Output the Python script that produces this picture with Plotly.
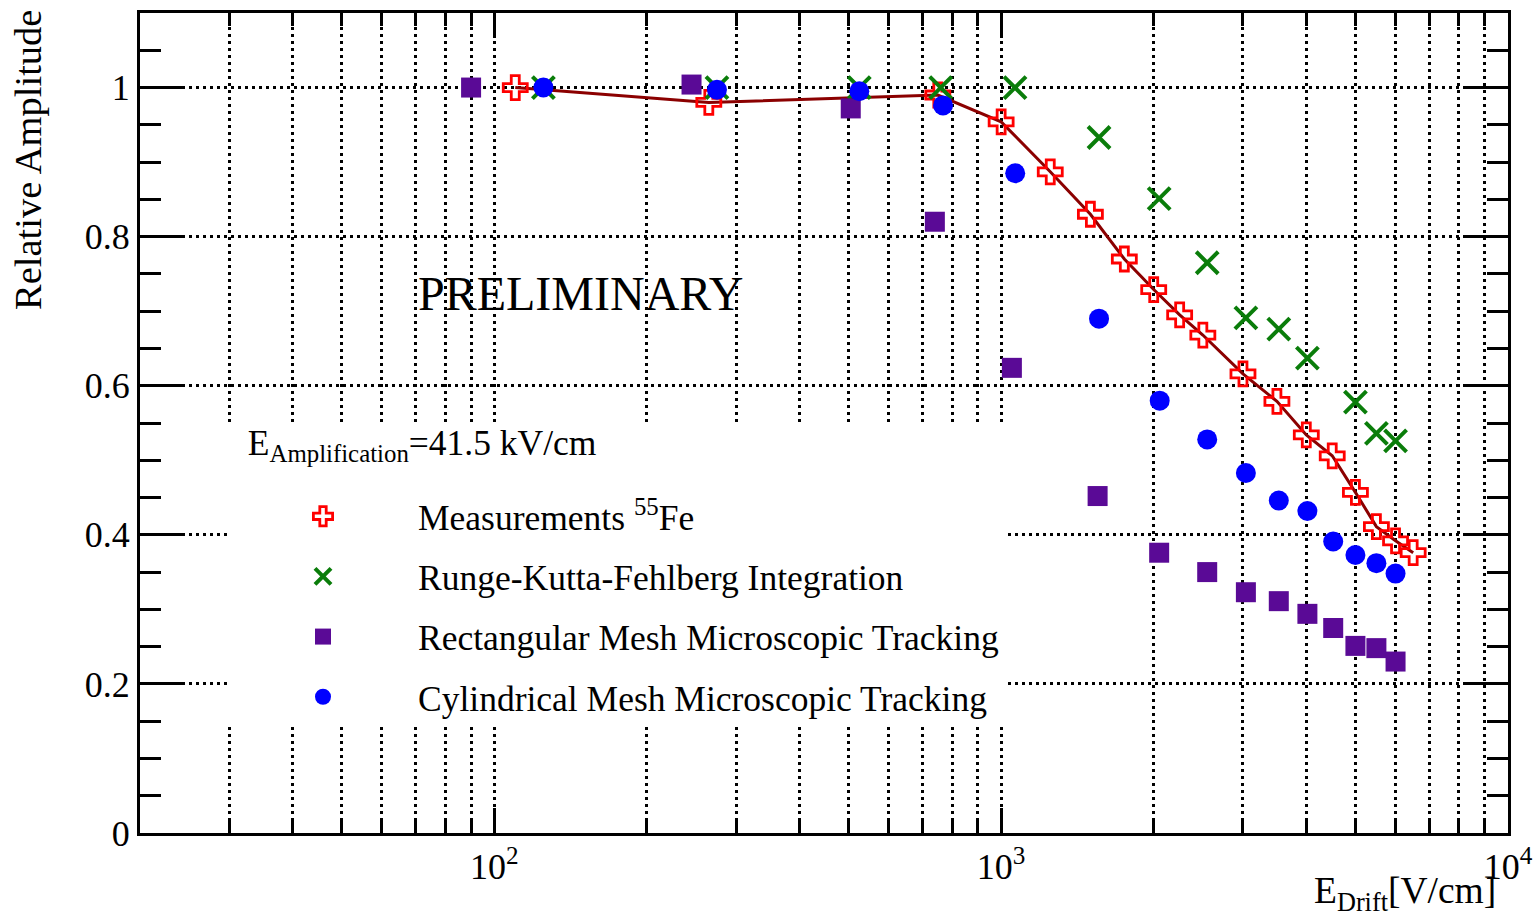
import math
import plotly.graph_objects as go

# Drift field [V/cm] and relative amplitude for each data set
meas_x = [110, 265, 750, 1000, 1250, 1500, 1750, 2000, 2250, 2500, 3000, 3500,
          4000, 4500, 5000, 5500, 6000, 6500]
meas_y = [1.000, 0.980, 0.990, 0.954, 0.887, 0.830, 0.770, 0.729, 0.695, 0.668,
          0.616, 0.579, 0.534, 0.506, 0.457, 0.411, 0.392, 0.376]

rkf_x = [125, 275, 525, 760, 1065, 1560, 2050, 2550, 3040, 3530, 4020, 5000, 5500, 6000]
rkf_y = [1.000, 1.000, 1.000, 1.000, 1.000, 0.933, 0.851, 0.765, 0.691, 0.676,
         0.637, 0.578, 0.536, 0.526]

rect_x = [90, 245, 505, 740, 1050, 1550, 2050, 2550, 3040, 3530, 4020, 4520, 5000, 5500, 6000]
rect_y = [1.000, 1.004, 0.972, 0.820, 0.624, 0.452, 0.376, 0.350, 0.323, 0.311,
          0.294, 0.275, 0.251, 0.248, 0.230]

cyl_x = [125, 275, 525, 768, 1066, 1560, 2055, 2550, 3040, 3530, 4020, 4520, 5000, 5500, 6000]
cyl_y = [1.000, 0.997, 0.995, 0.976, 0.885, 0.690, 0.580, 0.528, 0.483, 0.446,
         0.432, 0.391, 0.373, 0.362, 0.348]

# Axis ticks
x_major = [100, 1000, 10000]
x_major_text = ["10<sup>2</sup>", "10<sup>3</sup>", "10<sup>4</sup>"]
x_minor = [v * m for m in (10, 100, 1000) for v in range(2, 10) if v * m > 20]
y_major = [0, 0.2, 0.4, 0.6, 0.8, 1.0]
y_major_text = ["0", "0.2", "0.4", "0.6", "0.8", "1"]

FONT = "Liberation Serif, Times New Roman, serif"
GRID_DASH = "3px,4px"
LEG_SIZE = 35.5

fig = go.Figure()

# Measurement curve (drawn below the markers, not listed in the legend)
fig.add_trace(go.Scatter(
    x=meas_x, y=meas_y, mode="lines", showlegend=False, hoverinfo="skip",
    line=dict(color="#8b0000", width=3),
))
fig.add_trace(go.Scatter(
    x=meas_x, y=meas_y, mode="markers", name="Measurements <sup>55</sup>Fe",
    legendgroup="a",
    marker=dict(symbol="cross-open", size=20, color="#ff0000",
                line=dict(color="#ff0000", width=2.8)),
))
fig.add_trace(go.Scatter(
    x=rkf_x, y=rkf_y, mode="markers", name="Runge-Kutta-Fehlberg Integration",
    legendgroup="b",
    marker=dict(symbol="x-thin-open", size=22, color="#0a7d0a",
                line=dict(color="#0a7d0a", width=4)),
))
fig.add_trace(go.Scatter(
    x=rect_x, y=rect_y, mode="markers", name="Rectangular Mesh Microscopic Tracking",
    legendgroup="c",
    marker=dict(symbol="square", size=20, color="#5a0a96"),
))
fig.add_trace(go.Scatter(
    x=cyl_x, y=cyl_y, mode="markers", name="Cylindrical Mesh Microscopic Tracking",
    legendgroup="d",
    marker=dict(symbol="circle", size=20, color="#0000ff"),
))

# Legend header: a larger first line plus an empty second line leaves room
# between the header and the first entry
legend_title = (f'<span style="font-size:{LEG_SIZE}px">&nbsp;&nbsp;'
                'E<sub>Amplification</sub>=41.5 kV/cm</span><br>&nbsp;')

fig.update_layout(
    width=1536, height=924,
    margin=dict(l=140, r=28, t=13, b=91),
    paper_bgcolor="white", plot_bgcolor="white",
    font=dict(family=FONT, size=36, color="black"),
    showlegend=True,
    legend=dict(
        x=(228 - 140) / 1368, y=(833 - 423) / 820, xanchor="left", yanchor="top",
        bgcolor="white", borderwidth=0,
        font=dict(family=FONT, size=LEG_SIZE, color="black"),
        title=dict(text=legend_title, font=dict(family=FONT, size=24.5, color="black")),
        itemwidth=180, tracegroupgap=11, traceorder="grouped",
    ),
    xaxis=dict(
        type="log", range=[math.log10(20), 4], automargin=False,
        tickmode="array", tickvals=x_major, ticktext=x_major_text,
        ticks="inside", ticklen=25, tickwidth=3, tickcolor="black",
        showline=True, linewidth=3, linecolor="black", mirror="ticks",
        showgrid=True, gridcolor="black", gridwidth=3, griddash=GRID_DASH,
        zeroline=False,
        tickfont=dict(family=FONT, size=36, color="black"),
        minor=dict(tickmode="array", tickvals=x_minor, ticks="inside", ticklen=13,
                   tickwidth=3, tickcolor="black", showgrid=True,
                   gridcolor="black", gridwidth=3, griddash=GRID_DASH),
    ),
    yaxis=dict(
        range=[0, 1.1], automargin=False,
        tickmode="array", tickvals=y_major, ticktext=y_major_text,
        ticks="inside", ticklen=42, tickwidth=3, tickcolor="black",
        showline=True, linewidth=3, linecolor="black", mirror="ticks",
        showgrid=True, gridcolor="black", gridwidth=3, griddash=GRID_DASH,
        zeroline=False,
        tickfont=dict(family=FONT, size=36, color="black"),
        minor=dict(dtick=0.05, tick0=0, ticks="inside", ticklen=21, tickwidth=3,
                   tickcolor="black", showgrid=False),
    ),
    annotations=[
        dict(text="Relative Amplitude", xref="paper", yref="paper",
             x=(28 - 140) / 1368, y=1.0, yshift=5, xanchor="center", yanchor="top",
             textangle=-90, showarrow=False,
             font=dict(family=FONT, size=38.5, color="black")),
        dict(text="E<sub>Drift</sub>[V/cm]", xref="paper", yref="paper",
             x=(1498 - 140) / 1368, y=-(893 - 833) / 820, xanchor="right", yanchor="middle",
             showarrow=False, font=dict(family=FONT, size=37.5, color="black")),
        dict(text="PRELIMINARY", xref="x", yref="y",
             x=math.log10(70), y=0.7235, xanchor="left", yanchor="middle",
             showarrow=False, font=dict(family=FONT, size=48, color="black")),
    ],
)

fig.write_html("out.html")
